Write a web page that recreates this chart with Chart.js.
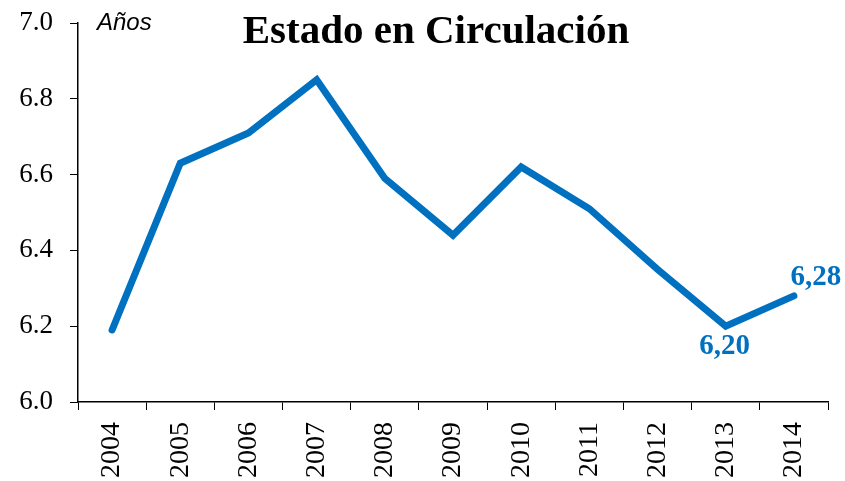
<!DOCTYPE html>
<html>
<head>
<meta charset="utf-8">
<script src="https://cdn.jsdelivr.net/npm/chart.js@4/dist/chart.umd.min.js"></script>
<style>
  html, body { margin: 0; padding: 0; background: #fff; }
  #wrap { width: 845px; height: 481px; position: relative; }
</style>
</head>
<body>
<div id="wrap"><canvas id="chart"></canvas></div>
<script>
// data
const years = ['2004', '2005', '2006', '2007', '2008', '2009', '2010', '2011', '2012', '2013', '2014'];
const edad = [6.19, 6.63, 6.71, 6.85, 6.59, 6.44, 6.62, 6.51, 6.35, 6.20, 6.28];
const yTicks = [6.0, 6.2, 6.4, 6.6, 6.8, 7.0];
const shownLabels = { 9: '6,20', 10: '6,28' };

const blue = '#0070C0';
const serif = "'Liberation Serif', 'Times New Roman', serif";

// title, unit and the two value labels
const extras = {
  id: 'extras',
  afterDatasetsDraw(chart) {
    const ctx = chart.ctx;
    const pts = chart.getDatasetMeta(0).data;
    ctx.save();
    ctx.textAlign = 'center';
    ctx.textBaseline = 'middle';

    ctx.fillStyle = '#000';
    ctx.font = 'bold 41px ' + serif;
    ctx.fillText('Estado en Circulación', 436, 32);

    ctx.font = 'italic 24px "Liberation Sans", Arial, sans-serif';
    ctx.textAlign = 'left';
    ctx.fillText('Años', 97, 23);

    ctx.fillStyle = blue;
    ctx.font = 'bold 29px ' + serif;
    ctx.textAlign = 'center';
    const p13 = pts[9], p14 = pts[10];
    ctx.fillText(shownLabels[9], p13.x - 1, p13.y + 20);
    ctx.fillText(shownLabels[10], p14.x + 22, p14.y - 18);
    ctx.restore();
  }
};

new Chart(document.getElementById('chart'), {
  type: 'line',
  data: {
    labels: years,
    datasets: [{
      data: edad,
      borderColor: blue,
      borderWidth: 7,
      borderCapStyle: 'round',
      borderJoinStyle: 'miter',
      pointRadius: 0,
      tension: 0,
      fill: false
    }]
  },
  options: {
    responsive: true,
    maintainAspectRatio: false,
    animation: false,
    layout: { padding: { top: 23, right: 17, left: 0, bottom: 0 } },
    plugins: {
      legend: { display: false },
      tooltip: { enabled: false }
    },
    scales: {
      x: {
        offset: true,
        grid: {
          offset: true,
          drawOnChartArea: false,
          drawTicks: true,
          tickLength: 8,
          color: '#000',
          lineWidth: 1
        },
        border: { color: '#000', width: 1.5 },
        ticks: {
          color: '#000',
          font: { family: serif, size: 28 },
          minRotation: 90,
          maxRotation: 90,
          padding: 12,
          autoSkip: false
        },
        afterFit(scale) {
          scale.height = 79;
          scale.paddingLeft = 0;
          scale.paddingRight = 0;
        }
      },
      y: {
        min: 6.0,
        max: 7.0,
        afterBuildTicks(scale) {
          scale.ticks = yTicks.map(v => ({ value: v }));
        },
        grid: {
          drawOnChartArea: false,
          drawTicks: true,
          tickLength: 8,
          color: '#000',
          lineWidth: 1
        },
        border: { color: '#000', width: 1.5 },
        ticks: {
          color: '#000',
          font: { family: serif, size: 27 },
          padding: 17,
          callback: v => Number(v).toFixed(1)
        },
        afterFit(scale) {
          scale.width = 78;
          scale.paddingTop = 0;
          scale.paddingBottom = 0;
        }
      }
    }
  },
  plugins: [extras]
});
</script>
</body>
</html>
